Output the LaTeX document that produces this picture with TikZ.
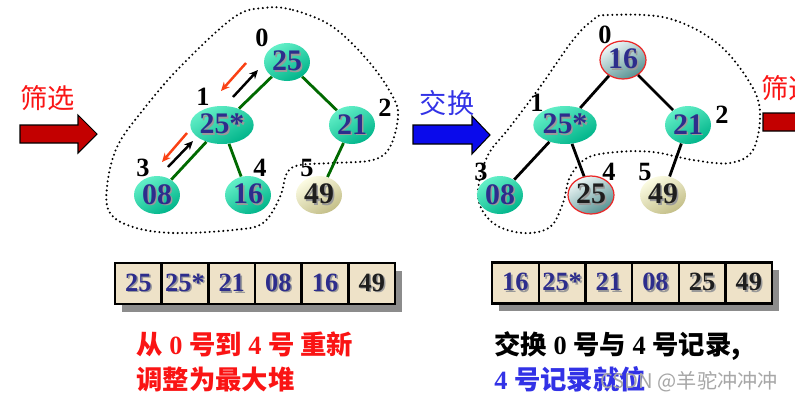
\documentclass[tikz,border=0pt]{standalone}
\usepackage{fontspec}
\setmainfont{Liberation Serif}
\newfontfamily\cjk{Noto Sans CJK SC}
\usetikzlibrary{positioning,arrows.meta,shadows,shapes.geometric}
\definecolor{keyblue}{RGB}{45,45,140}
\definecolor{keyblack}{RGB}{30,30,30}
\definecolor{treegreen}{RGB}{0,105,0}
\definecolor{tealL}{RGB}{100,240,200}
\definecolor{tealD}{RGB}{0,180,138}
\definecolor{greyL}{RGB}{240,248,248}
\definecolor{greyD}{RGB}{85,145,145}
\definecolor{beigeL}{RGB}{252,252,228}
\definecolor{beigeD}{RGB}{195,190,135}
\definecolor{parchment}{RGB}{238,226,200}
\definecolor{darkred}{RGB}{195,0,0}
\definecolor{swapblue}{RGB}{10,10,235}
\definecolor{capred}{RGB}{250,20,20}
\definecolor{capblue}{RGB}{50,50,230}
\definecolor{markred}{RGB}{235,40,40}
\definecolor{siftred}{RGB}{250,65,20}
\newcommand\shtxt[2]{\makebox[0pt][l]{\hspace{0.9pt}\raisebox{-0.9pt}{\textcolor{black!40}{#2}}}\textcolor{#1}{#2}}

\begin{document}
\begin{tikzpicture}[
    x=0.02cm, y=-0.02cm,
    key/.style={
        ellipse, inner sep=0pt,
        minimum width=0.92cm, minimum height=0.76cm,
        top color=tealL, bottom color=tealD, shading angle=30,
        font=\fontsize{17}{17}\selectfont\bfseries
    },
    swapped/.style={key, top color=greyL, bottom color=greyD, shading angle=30,
        draw=markred, line width=0.7pt},
    leaf/.style={key, top color=beigeL, bottom color=beigeD, shading angle=30},
    idx/.style={inner sep=0pt, font=\fontsize{15}{15}\selectfont\bfseries},
    link/.style={line width=1.6pt, treegreen},
    cell/.style={
        rectangle, draw=black, line width=1.4pt, fill=parchment,
        minimum width=0.934cm, minimum height=0.82cm, inner sep=0pt, outer sep=0pt,
        font=\fontsize{15}{15}\selectfont\bfseries,
        drop shadow={shadow xshift=4pt, shadow yshift=-4.5pt, fill=black!45, opacity=1}
    },
    hull/.style={line width=1.3pt, dash pattern=on 0pt off 2.6pt, line cap=round},
    blockarrow/.style={draw=black, line width=0.6pt},
    siftup/.style={-{Stealth[length=5pt,width=4.5pt]}, line width=1.4pt, black},
    siftdown/.style={-{Stealth[length=5pt,width=4.5pt]}, line width=1.4pt, siftred},
    tag/.style={inner sep=0pt, font=\cjk\fontsize{15.5}{16}\selectfont},
    caption/.style={inner sep=0pt, anchor=north west, align=left,
        font=\fontsize{15}{20}\selectfont\bfseries}
]
\useasboundingbox (0,0) rectangle (795,403);
\clip (0,0) rectangle (795,403);

% left heap
\draw[blockarrow, fill=darkred] (20,125) -- (78,125) -- (78,115) -- (97,134) -- (78,153) -- (78,143) -- (20,143) -- cycle;
\node[tag, text=capred] (siftL) at (48,98) {筛选};

\draw[hull] plot[smooth cycle, tension=0.6] coordinates {
    (263,8) (293,10) (333,27) (370,63) (393,97) (398,117) (390,147) (373,160)
    (333,163) (300,165) (287,173) (280,197) (263,223) (233,230) (173,233)
    (133,227) (110,213) (107,187) (117,147) (143,110) (180,67) (233,18)};

\node[key] (a0) at (287,62) {\shtxt{keyblue}{25}};
\node[key] (a1) at (222,125) {\shtxt{keyblue}{25*}};
\node[key] (a2) at (352,125) {\shtxt{keyblue}{21}};
\node[key] (a3) at (157,195) {\shtxt{keyblue}{08}};
\node[key] (a4) at (248,195) {\shtxt{keyblue}{16}};
\node[leaf] (a5) at (319,195) {\shtxt{keyblack}{49}};

\draw[link] (a0) -- (a1);
\draw[link] (a0) -- (a2);
\draw[link] (a1) -- (a3);
\draw[link] (a1) -- (a4);
\draw[link] (a2) -- (a5);

\node[idx] (ia0) at (262,38) {0};
\node[idx] (ia1) at (203,97) {1};
\node[idx] (ia2) at (385,108) {2};
\node[idx] (ia3) at (143,168) {3};
\node[idx] (ia4) at (260,168) {4};
\node[idx] (ia5) at (307,168) {5};

\coordinate (up1s) at (233,97);
\coordinate (up1e) at (258,70);
\coordinate (dn1s) at (246,63);
\coordinate (dn1e) at (221,91);
\coordinate (up2s) at (168,167);
\coordinate (up2e) at (193,141);
\coordinate (dn2s) at (187,133);
\coordinate (dn2e) at (162,162);
\draw[siftup] (up1s) -- (up1e);
\draw[siftdown] (dn1s) -- (dn1e);
\draw[siftup] (up2s) -- (up2e);
\draw[siftdown] (dn2s) -- (dn2e);

% right heap
\draw[blockarrow, fill=swapblue] (413,125) -- (472,125) -- (472,116) -- (490,135) -- (472,154) -- (472,144) -- (413,144) -- cycle;
\node[tag, text=capblue] (swap) at (447,103) {交换};

\draw[hull] plot[smooth cycle, tension=0.6] coordinates {
    (607,15) (667,18) (717,43) (750,83) (760,113) (753,150) (730,163) (693,160)
    (653,152) (617,152) (587,158) (570,177) (563,203) (550,227) (523,233)
    (493,223) (478,197) (487,157) (510,127) (540,87) (573,40) (593,20)};

\node[swapped] (b0) at (623,60) {\shtxt{keyblue}{16}};
\node[key] (b1) at (565,125) {\shtxt{keyblue}{25*}};
\node[key] (b2) at (688,125) {\shtxt{keyblue}{21}};
\node[key] (b3) at (500,195) {\shtxt{keyblue}{08}};
\node[swapped] (b4) at (591,195) {\shtxt{keyblack}{25}};
\node[leaf] (b5) at (663,195) {\shtxt{keyblack}{49}};

\draw[link, black] (b0) -- (b1);
\draw[link, black] (b0) -- (b2);
\draw[link, black] (b1) -- (b3);
\draw[link, black] (b1) -- (b4);
\draw[link, black] (b2) -- (b5);

\node[idx] (ib0) at (605,35) {0};
\node[idx] (ib1) at (537,103) {1};
\node[idx] (ib2) at (722,115) {2};
\node[idx] (ib3) at (481,172) {3};
\node[idx] (ib4) at (609,172) {4};
\node[idx] (ib5) at (645,172) {5};

\draw[blockarrow, fill=darkred] (763,113) -- (822,113) -- (822,103) -- (841,122) -- (822,141) -- (822,131) -- (763,131) -- cycle;
\node[tag, text=capred, anchor=west] (siftR) at (761,88) {筛选};

% arrays
\node[cell] (p1) at (138.3,283.5) {\shtxt{keyblue}{25}};
\node[cell, right=0pt of p1] (p2) {\shtxt{keyblue}{25*}};
\node[cell, right=0pt of p2] (p3) {\shtxt{keyblue}{21}};
\node[cell, right=0pt of p3] (p4) {\shtxt{keyblue}{08}};
\node[cell, right=0pt of p4] (p5) {\shtxt{keyblue}{16}};
\node[cell, right=0pt of p5] (p6) {\shtxt{keyblack}{49}};

\node[cell] (q1) at (515.4,283) {\shtxt{keyblue}{16}};
\node[cell, right=0pt of q1] (q2) {\shtxt{keyblue}{25*}};
\node[cell, right=0pt of q2] (q3) {\shtxt{keyblue}{21}};
\node[cell, right=0pt of q3] (q4) {\shtxt{keyblue}{08}};
\node[cell, right=0pt of q4] (q5) {\shtxt{keyblack}{25}};
\node[cell, right=0pt of q5] (q6) {\shtxt{keyblack}{49}};

% captions
\node[caption, text=capred] (capL) at (136,331) {{\cjk 从} 0 {\cjk 号到} 4 {\cjk 号 重新}\\{\cjk 调整为最大堆}};
\node[caption] (capR) at (494,331) {{\cjk 交换} 0 {\cjk 号与} 4 {\cjk 号记录,}\\\textcolor{capblue}{4 {\cjk 号记录就位}}};

\node[anchor=west, inner sep=0pt, text=black!35, font=\cjk\fontsize{11.5}{12}\selectfont] (mark) at (600,382) {CSDN @羊驼冲冲冲};

\end{tikzpicture}
\end{document}
